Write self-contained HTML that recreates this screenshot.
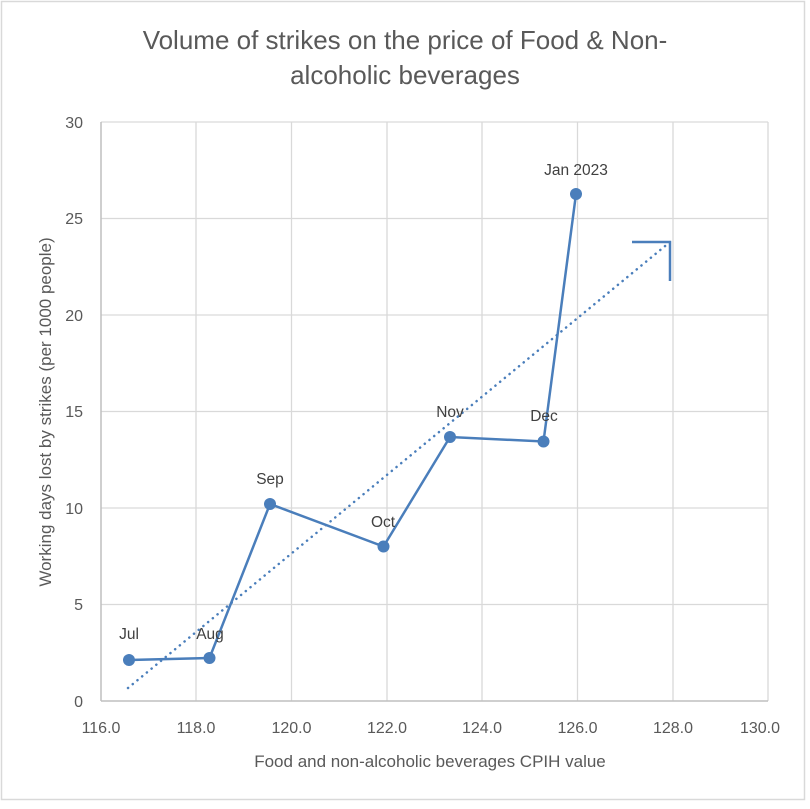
<!DOCTYPE html>
<html><head><style>
body{margin:0;background:#fff}
text{font-family:"Liberation Sans",sans-serif;fill:#595959}
</style></head><body>
<svg width="810" height="804" viewBox="0 0 810 804" xmlns="http://www.w3.org/2000/svg">
<rect x="1.5" y="1.5" width="803" height="798" fill="#fff" stroke="#d9d9d9" stroke-width="1.5"/>
<text x="405" y="49" font-size="26" text-anchor="middle">Volume of strikes on the price of Food &amp; Non-</text>
<text x="405" y="84" font-size="26" text-anchor="middle">alcoholic beverages</text>
<g stroke="#d9d9d9" stroke-width="1.3">
<line x1="101" y1="122" x2="768" y2="122"/><line x1="101" y1="218.5" x2="768" y2="218.5"/>
<line x1="101" y1="315" x2="768" y2="315"/><line x1="101" y1="411.5" x2="768" y2="411.5"/>
<line x1="101" y1="508" x2="768" y2="508"/><line x1="101" y1="604.5" x2="768" y2="604.5"/>
<line x1="196" y1="122" x2="196" y2="701"/><line x1="291.5" y1="122" x2="291.5" y2="701"/>
<line x1="387" y1="122" x2="387" y2="701"/><line x1="482" y1="122" x2="482" y2="701"/>
<line x1="577.5" y1="122" x2="577.5" y2="701"/><line x1="673" y1="122" x2="673" y2="701"/>
<line x1="768" y1="122" x2="768" y2="701"/>
</g>
<g stroke="#bfbfbf" stroke-width="1.5"><line x1="101" y1="122" x2="101" y2="701"/><line x1="101" y1="701" x2="768" y2="701"/></g>
<g font-size="16" text-anchor="end">
<text x="83" y="128">30</text><text x="83" y="224">25</text><text x="83" y="321">20</text>
<text x="83" y="417">15</text><text x="83" y="514">10</text><text x="83" y="610">5</text><text x="83" y="707">0</text>
</g>
<g font-size="16" text-anchor="middle">
<text x="101" y="733">116.0</text><text x="196" y="733">118.0</text><text x="291.5" y="733">120.0</text>
<text x="387" y="733">122.0</text><text x="482" y="733">124.0</text><text x="577.5" y="733">126.0</text>
<text x="673" y="733">128.0</text><text x="760" y="733">130.0</text>
</g>
<text x="430" y="767" font-size="17" text-anchor="middle">Food and non-alcoholic beverages CPIH value</text>
<text transform="translate(51,412) rotate(-90)" font-size="17" text-anchor="middle">Working days lost by strikes (per 1000 people)</text>
<line x1="128" y1="688" x2="670" y2="242" stroke="#4a7ebb" stroke-width="2.5" stroke-dasharray="0.1 6" stroke-linecap="round"/>
<path d="M632 242 H670 V281" fill="none" stroke="#4a7ebb" stroke-width="2.5"/>
<polyline points="129,660 209.5,658 270,504 383.5,546.5 450,437 543.5,441.5 576,194" fill="none" stroke="#4a7ebb" stroke-width="2.5"/>
<g fill="#4a7ebb">
<circle cx="129" cy="660" r="6"/><circle cx="209.5" cy="658" r="6"/><circle cx="270" cy="504" r="6"/>
<circle cx="383.5" cy="546.5" r="6"/><circle cx="450" cy="437" r="6"/><circle cx="543.5" cy="441.5" r="6"/>
<circle cx="576" cy="194" r="6"/>
</g>
<g font-size="15.5" text-anchor="middle">
<text x="129" y="639" style="fill:#404040">Jul</text><text x="210" y="639" style="fill:#404040">Aug</text>
<text x="270" y="484" style="fill:#404040">Sep</text><text x="383" y="527" style="fill:#404040">Oct</text>
<text x="450" y="417" style="fill:#404040">Nov</text><text x="544" y="421" style="fill:#404040">Dec</text>
<text x="576" y="175" style="fill:#404040">Jan 2023</text>
</g>
</svg>
</body></html>
